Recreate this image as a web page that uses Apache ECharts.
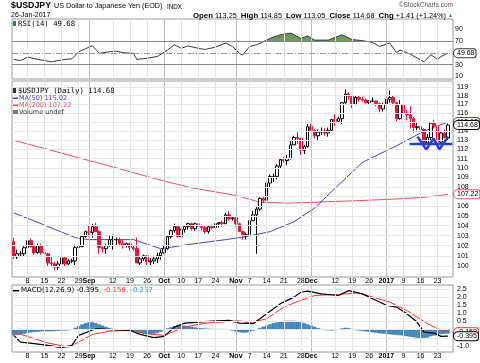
<!DOCTYPE html>
<html><head><meta charset="utf-8">
<script src="https://cdn.jsdelivr.net/npm/echarts@6.0.0/dist/echarts.min.js"></script>
<style>html,body{margin:0;padding:0;background:#fff;}#chart{width:480px;height:363px;}</style>
</head><body><div id="chart"></div>
<script>
// ---------------- data ----------------
// daily candles [open, high, low, close], weekdays 2016-08-02 .. 2017-01-26
const candles = [
[102.4,102.8,100.7,100.9],[100.9,101.6,100.7,101.2],[101.2,101.5,100.9,101.2],[101.2,102.0,100.9,101.8],
[101.8,102.6,101.7,102.5],[102.5,102.7,101.8,101.9],[101.9,102.0,101.1,101.3],[101.3,102.2,101.2,102.0],[102.0,102.2,101.1,101.3],
[101.3,101.6,100.8,101.2],[101.2,101.3,99.9,100.3],[100.3,100.9,99.9,100.2],[100.2,100.4,99.6,99.9],[99.9,100.5,99.6,100.2],
[100.2,100.9,100.0,100.8],[100.8,100.9,100.0,100.2],[100.2,100.7,100.1,100.5],[100.5,100.7,100.3,100.5],[100.5,102.1,100.1,101.8],
[101.8,102.5,101.8,101.9],[101.9,103.0,101.9,102.9],[102.9,103.5,102.8,103.4],[103.4,104.0,102.9,103.3],[103.3,104.2,102.8,103.9],
[103.9,104.3,103.5,103.4],[103.4,103.5,101.2,101.8],[101.8,102.0,101.3,101.7],[101.7,102.2,101.2,102.0],[102.0,103.0,101.9,102.6],
[102.6,103.1,101.6,102.6],[102.6,102.8,102.0,102.6],[102.6,102.8,102.0,102.2],[102.2,102.6,101.7,102.0],[102.0,102.3,101.8,102.2],
[102.2,102.3,101.5,101.8],[101.8,102.0,101.5,101.7],[101.7,102.8,100.3,100.3],[100.3,100.9,100.1,100.7],[100.7,101.1,100.5,101.0],
[101.0,101.1,100.1,100.4],[100.4,100.8,100.1,100.5],[100.5,101.0,100.2,100.7],[100.7,101.3,100.3,101.0],[101.0,101.6,100.6,101.3],
[101.3,102.0,101.2,101.7],[101.7,103.0,101.6,102.9],[102.9,103.6,102.7,103.5],[103.5,104.2,103.3,103.9],[103.9,104.0,102.8,102.9],
[102.9,103.7,102.9,103.6],[103.6,104.0,103.3,103.9],[103.9,104.3,103.6,104.2],[104.2,104.3,103.5,103.7],[103.7,104.3,103.5,104.2],
[104.2,104.3,103.7,103.9],[103.9,104.1,103.5,103.8],[103.8,104.0,103.2,103.4],[103.4,104.0,103.2,103.9],[103.9,104.1,103.6,103.8],
[103.8,104.4,103.8,104.2],[104.2,104.3,103.8,104.3],[104.3,104.5,103.9,104.2],[104.2,105.3,104.2,105.1],[105.1,105.5,104.5,104.7],
[104.7,105.0,104.5,104.8],[104.8,105.0,103.9,104.2],[104.2,104.3,103.4,103.4],[103.4,103.5,102.6,103.0],[103.0,103.3,102.6,103.1],
[103.1,104.6,103.1,104.5],[104.5,105.5,104.5,105.1],[105.1,105.9,101.2,105.7],[105.7,106.9,105.5,106.8],[106.8,107.0,106.3,106.6],
[106.6,108.5,106.5,108.4],[108.4,109.3,107.9,109.1],[109.1,109.4,108.5,109.1],[109.1,110.4,108.8,110.2],[110.2,111.0,110.0,110.9],
[110.9,111.2,110.6,110.8],[110.8,111.4,110.3,111.0],[111.0,112.9,110.9,112.5],[112.5,113.5,112.5,113.3],[113.3,113.9,112.6,113.2],
[113.2,113.2,111.4,111.9],[111.9,112.5,111.5,112.3],[112.3,114.8,112.2,114.5],[114.5,114.8,113.9,114.1],[114.1,114.2,113.2,113.5],
[113.5,114.2,112.9,113.9],[113.9,114.4,113.6,114.0],[114.0,114.3,113.5,113.8],[113.8,114.4,113.4,114.1],[114.1,115.4,113.9,115.3],
[115.3,116.0,114.6,115.1],[115.1,115.6,114.9,115.4],[115.4,117.2,114.8,117.2],[117.2,118.7,117.1,118.2],[118.2,118.4,117.5,117.9],
[117.9,118.0,116.6,117.0],[117.0,118.0,116.9,117.8],[117.8,118.0,117.3,117.6],[117.6,117.9,117.3,117.5],[117.5,117.7,117.1,117.2],
[117.2,117.5,117.0,117.4],[117.4,117.8,117.3,117.4],[117.4,117.4,116.8,117.1],[117.1,117.2,116.1,116.5],[116.5,117.2,116.2,117.0],
[117.0,117.7,116.9,117.6],[117.6,118.6,117.2,117.8],[117.8,118.0,116.9,117.2],[117.2,117.3,115.1,115.4],[115.4,117.5,115.3,117.0],
[117.0,117.0,115.8,116.0],[116.0,116.4,115.2,115.8],[115.8,116.8,114.3,115.4],[115.4,115.6,113.8,114.4],[114.4,115.0,114.1,114.5],
[114.5,114.6,113.6,114.2],[114.2,114.3,112.6,112.7],[112.7,113.7,112.6,113.3],[113.3,115.0,113.0,114.9],[114.9,115.3,114.3,114.6],
[114.6,114.6,112.5,112.8],[112.8,114.0,112.5,113.8],[113.8,114.2,113.2,113.3],[113.25,114.85,113.05,114.68]
];
const ma50Points = [['2016-08-02',105.3],['2016-08-12',104.2],['2016-08-26',102.8],['2016-09-01',102.6],['2016-09-08',102.6],['2016-09-20',102.6],['2016-09-30',101.7],['2016-10-14',102.2],['2016-10-27',102.6],['2016-11-04',102.9],['2016-11-15',103.4],['2016-11-24',104.4],['2016-12-02',105.8],['2016-12-09',107.5],['2016-12-22',110.6],['2017-01-05',112.4],['2017-01-17',114.0],['2017-01-26',115.02]];
const ma200Points = [['2016-08-02',113.0],['2016-08-16',112.0],['2016-08-30',111.0],['2016-09-13',110.0],['2016-09-29',108.8],['2016-10-13',107.9],['2016-11-01',107.1],['2016-11-10',106.4],['2016-11-22',106.3],['2016-12-02',106.4],['2016-12-20',106.55],['2017-01-03',106.7],['2017-01-17',106.9],['2017-01-26',107.22]];
const rsiPoints = [['2016-08-02',39],['2016-08-04',37],['2016-08-08',43],['2016-08-12',38],['2016-08-17',35],['2016-08-23',39],['2016-08-25',40],['2016-08-29',52],['2016-09-02',62.5],['2016-09-06',49.5],['2016-09-09',52],['2016-09-13',53],['2016-09-15',50.5],['2016-09-20',49.5],['2016-09-21',39],['2016-09-26',41],['2016-09-29',44],['2016-10-04',55],['2016-10-06',64],['2016-10-10',58],['2016-10-12',62],['2016-10-17',58],['2016-10-19',56],['2016-10-24',60],['2016-10-27',67],['2016-10-31',61],['2016-11-02',49.5],['2016-11-03',46.6],['2016-11-07',61],['2016-11-09',64],['2016-11-11',69],['2016-11-15',75],['2016-11-18',81],['2016-11-23',84],['2016-11-28',75],['2016-11-30',79],['2016-12-02',72],['2016-12-08',72],['2016-12-14',81],['2016-12-19',73],['2016-12-22',71],['2016-12-27',68],['2016-12-29',61],['2017-01-03',67],['2017-01-05',50.5],['2017-01-06',55],['2017-01-11',48],['2017-01-17',35],['2017-01-19',47],['2017-01-23',39],['2017-01-24',44],['2017-01-26',49.68]];
const macdPoints = [['2016-08-02',-0.35],['2016-08-04',-0.76],['2016-08-10',-0.86],['2016-08-16',-0.96],['2016-08-22',-1.1],['2016-08-25',-0.96],['2016-08-29',-0.35],['2016-09-05',0.06],['2016-09-09',0.0],['2016-09-19',-0.04],['2016-09-22',-0.29],['2016-09-28',-0.49],['2016-10-03',-0.41],['2016-10-06',0.16],['2016-10-11',0.4],['2016-10-17',0.47],['2016-10-21',0.53],['2016-10-28',0.57],['2016-11-02',0.4],['2016-11-08',0.37],['2016-11-14',0.98],['2016-11-18',1.6],['2016-11-24',2.0],['2016-11-28',2.3],['2016-11-30',2.37],['2016-12-06',2.2],['2016-12-13',2.1],['2016-12-16',2.4],['2016-12-22',2.2],['2016-12-27',1.9],['2017-01-02',1.5],['2017-01-05',1.39],['2017-01-10',0.98],['2017-01-13',0.47],['2017-01-17',-0.15],['2017-01-20',-0.21],['2017-01-24',-0.41],['2017-01-26',-0.395]];
const signalPoints = [['2016-08-02',-0.15],['2016-08-10',-0.55],['2016-08-16',-0.82],['2016-08-24',-1.07],['2016-08-29',-0.76],['2016-09-02',-0.29],['2016-09-09',-0.09],['2016-09-19',-0.04],['2016-09-26',-0.25],['2016-10-03',-0.35],['2016-10-11',0.16],['2016-10-19',0.4],['2016-10-31',0.53],['2016-11-02',0.55],['2016-11-07',0.42],['2016-11-14',0.67],['2016-11-21',1.39],['2016-11-28',1.8],['2016-12-02',2.1],['2016-12-13',2.17],['2016-12-21',2.25],['2016-12-27',2.0],['2017-01-03',1.7],['2017-01-10',1.18],['2017-01-18',0.37],['2017-01-24',-0.04],['2017-01-26',-0.158]];
const macdHist = [-0.32,-0.33,-0.30,-0.25,-0.20,-0.16,-0.14,-0.12,-0.10,-0.10,-0.10,-0.09,-0.08,-0.06,-0.05,-0.04,-0.02,0.02,0.12,0.22,
0.32,0.40,0.45,0.46,0.40,0.33,0.25,0.17,0.10,0.06,0.04,0.03,0.02,0.01,0.00,-0.05,-0.13,-0.20,-0.24,-0.26,
-0.27,-0.25,-0.20,-0.12,-0.02,0.08,0.15,0.21,0.24,0.25,0.24,0.21,0.17,0.14,0.11,0.09,0.07,0.06,0.05,0.04,
0.04,0.04,0.03,0.01,-0.04,-0.10,-0.15,-0.18,-0.17,-0.12,-0.05,0.02,0.10,0.18,0.26,0.33,0.40,0.45,0.50,0.54,
0.55,0.55,0.55,0.52,0.46,0.40,0.32,0.25,0.18,0.10,0.04,0.00,-0.03,-0.04,-0.02,0.03,0.08,0.12,0.10,0.05,
0.00,-0.04,-0.07,-0.10,-0.13,-0.16,-0.19,-0.22,-0.24,-0.26,-0.28,-0.30,-0.32,-0.34,-0.37,-0.40,-0.43,-0.46,-0.50,-0.54,
-0.56,-0.48,-0.40,-0.36,-0.30,-0.27,-0.25,-0.237];
const priceTicks = [100,101,102,103,104,105,106,107,108,109,110,111,112,113,114,115,116,117,118,119];
const rsiTicks = [90,70,50,30,10];
const macdTicks = ['2.5','2.0','1.5','1.0','0.5','0.0','-0.5','-1.0'];
const tickDates = ['2016-08-08','2016-08-15','2016-08-22','2016-08-29','2016-09-01','2016-09-12','2016-09-19','2016-09-26','2016-10-03','2016-10-10','2016-10-17','2016-10-24','2016-11-01','2016-11-07','2016-11-14','2016-11-21','2016-11-28','2016-12-01','2016-12-12','2016-12-19','2016-12-26','2017-01-02','2017-01-09','2017-01-16','2017-01-23'];
const tickTexts = ['8','15','22','29','Sep','12','19','26','Oct','10','17','24','Nov','7','14','21','28','Dec','12','19','26','2017','9','16','23'];
const monthTexts = ['Sep','Oct','Nov','Dec','2017'];
// hand-drawn annotation (x in trading-day index, y in price)
const supportLine = [[115.8,112.6],[128.3,112.6]];
const wPattern = [[118.1,113.4],[120.7,112.0],[122.8,113.2],[124.5,112.0],[127.1,113.4]];
const lastValues = {close:'114.68', ma50:'115.02', ma200:'107.22', rsi:'49.68', macd:'-0.395', signal:'-0.158', hist:'-0.237'};

// ---------------- categories ----------------
const dates = [];
(function(){ let t = Date.UTC(2016,7,2); const end = Date.UTC(2017,0,26);
  while (t <= end) { const d = new Date(t); const w = d.getUTCDay(); if (w > 0 && w < 6) dates.push(d.toISOString().slice(0,10)); t += 86400000; } })();
const categories = dates.concat(['2017-01-27']);

// ---------------- option ----------------
const FONT = '"Liberation Sans", Arial, sans-serif';
const LFONT = '"DejaVu Sans", Verdana, sans-serif';
const MFONT = '"DejaVu Sans Mono", monospace';
const NONE = 'rgba(0,0,0,0)';
const L = 12, W = 441;
const gridDefs = [{top:19,height:60},{top:81,height:196},{top:285,height:67}];
const grids = gridDefs.map(g => ({left:L, width:W, top:g.top, height:g.height, show:true, borderColor:'#9a9a9a', borderWidth:1, backgroundColor:'#fff', containLabel:false, outerBoundsMode:'none'}));

const isMonthTick = (v) => { const k = tickDates.indexOf(v); return k >= 0 && monthTexts.indexOf(tickTexts[k]) >= 0; };
const isDayTick = (v) => { const k = tickDates.indexOf(v); return k >= 0 && monthTexts.indexOf(tickTexts[k]) < 0; };
function catAxis(gi, mode) {
  return {type:'category', gridIndex:gi, position:'bottom', data:categories, boundaryGap:true,
    axisLine:{show:false}, axisTick:{show:false}, splitLine:{show:false},
    axisLabel:{show:mode !== 'none', interval:(i,v)=> mode === 'month' ? isMonthTick(v) : isDayTick(v), margin:1,
      formatter:(v)=> tickTexts[tickDates.indexOf(v)] || '',
      fontSize:7, fontWeight: mode === 'month' ? 'bold' : 'normal', color:'#000', fontFamily:FONT}};
}
const xAxes = [catAxis(0,'none'), catAxis(1,'day'), catAxis(2,'day'),
  {type:'value', gridIndex:1, min:-0.5, max:128.5, show:false},
  catAxis(1,'month'), catAxis(2,'month')];
const hidden = {axisLabel:{show:false}, axisLine:{show:false}, axisTick:{show:false}, splitLine:{show:false}};
const yAxes = [
  Object.assign({type:'value', gridIndex:0, min:5.6, max:108}, hidden),
  Object.assign({type:'log', logBase:10, gridIndex:1, min:98.94, max:119.7}, hidden),
  Object.assign({type:'value', gridIndex:2, min:-1.37, max:2.745}, hidden)
];

function vLines() {
  return tickDates.map((d,k) => ({xAxis:d, label:{show:false},
    lineStyle: monthTexts.indexOf(tickTexts[k]) >= 0 ? {color:'#bdbdbd', width:1, type:'solid'} : {color:'#e4e4e4', width:1, type:'solid'}}));
}
function hLabel(val, txt, color, dist) {
  return {yAxis:val, lineStyle:{color:color, width:1, type:'solid'},
    label:{show:true, position:'end', distance:dist, formatter:txt, color:'#000', fontSize:7, fontFamily:FONT}};
}
function boxLabel(val, txt, border) {
  return {yAxis:val, lineStyle:{color:NONE, width:0},
    label:{show:true, position:'end', distance:1, formatter:txt, color:'#000', fontSize:7, fontFamily:FONT,
      backgroundColor:'#fff', borderColor:border, borderWidth:1, borderRadius:[5,2,2,5], padding:[1,1,0,3]}};
}
function helper(gi, z, items) {
  return {type:'line', xAxisIndex:gi, yAxisIndex:gi, data:[], z:z, silent:true, animation:false,
    markLine:{silent:true, symbol:['none','none'], animation:false, precision:4, data:items}};
}

const rsiGrid = vLines()
  .concat(rsiTicks.map(v => ({yAxis:v, lineStyle: v===70||v===30 ? {color:'#888', width:1, type:'solid'} : (v===50 ? {color:'#999', width:1, type:[6,2,1,2]} : {color:NONE, width:0}),
     label:{show:true, position:'end', distance:2, formatter:String(v), color:'#000', fontSize:7, fontFamily:FONT}})));
const priceGrid = vLines().concat(priceTicks.map(v => hLabel(v, String(v), '#e8e8e8', 4)));
const macdGrid = vLines().concat(macdTicks.map(t => hLabel(parseFloat(t), t, '#e8e8e8', 4)));

const series = [
  helper(0, 1, rsiGrid),
  helper(1, 1, priceGrid),
  helper(2, 1, macdGrid),
  {type:'line', name:'rsiFill', xAxisIndex:0, yAxisIndex:0, data:rsiPoints.map(p => [p[0], Math.max(p[1],70)]),
    symbol:'none', lineStyle:{width:0}, areaStyle:{origin:70, color:'#6b9a5e', opacity:1}, z:2, animation:false},
  {type:'line', name:'RSI', xAxisIndex:0, yAxisIndex:0, data:rsiPoints, symbol:'none',
    lineStyle:{color:'#3a3a3a', width:1}, z:3, animation:false},
  {type:'line', name:'MA200', xAxisIndex:1, yAxisIndex:1, data:ma200Points, symbol:'none',
    lineStyle:{color:'#e8506e', width:1}, z:3, animation:false},
  {type:'line', name:'MA50', xAxisIndex:1, yAxisIndex:1, data:ma50Points, symbol:'none',
    lineStyle:{color:'#4646b4', width:1}, z:3, animation:false},
  {type:'candlestick', name:'USDJPY', xAxisIndex:1, yAxisIndex:1, data:candles.map(c => [c[0],c[3],c[2],c[1]]),
    barWidth:3, itemStyle:{color:'#ffffff', color0:'#e3173d', borderColor:'#000', borderColor0:'#e3173d', borderWidth:1}, z:4, animation:false},
  {type:'line', name:'support', xAxisIndex:3, yAxisIndex:1, data:supportLine, symbol:'none',
    lineStyle:{color:'#2a3ed8', width:2.5}, z:6, animation:false},
  {type:'line', name:'W', xAxisIndex:3, yAxisIndex:1, data:wPattern, symbol:'none',
    lineStyle:{color:'#2a3ed8', width:2.5}, z:6, animation:false},
  {type:'bar', name:'hist', xAxisIndex:2, yAxisIndex:2, data:macdHist, barCategoryGap:'0%',
    itemStyle:{color:'#3f90c8', borderColor:'#1f5a85', borderWidth:0.4}, z:2, animation:false},
  {type:'line', name:'signal', xAxisIndex:2, yAxisIndex:2, data:signalPoints, symbol:'none',
    lineStyle:{color:'#ff2f2f', width:1}, z:3, animation:false},
  {type:'line', name:'MACD', xAxisIndex:2, yAxisIndex:2, data:macdPoints, symbol:'none',
    lineStyle:{color:'#000', width:1.2}, z:4, animation:false},
  helper(0, 10, [boxLabel(parseFloat(lastValues.rsi), lastValues.rsi, '#333')]),
  helper(1, 10, [boxLabel(parseFloat(lastValues.ma50), lastValues.ma50, '#4646b4'), boxLabel(parseFloat(lastValues.close), lastValues.close, '#000'), boxLabel(parseFloat(lastValues.ma200), lastValues.ma200, '#e8506e')]),
  helper(2, 10, [boxLabel(parseFloat(lastValues.hist), lastValues.hist, '#3f90c8'), boxLabel(parseFloat(lastValues.signal), lastValues.signal, '#ff2f2f'), boxLabel(parseFloat(lastValues.macd), lastValues.macd, '#000')])
];

const T = (x, y, text, font, fill) => ({type:'text', left:x, top:y, silent:true, z:100, style:{text:text, font:font, fill:fill||'#000'}});
const graphic = [
  T(11, 1.5, '$USDJPY', 'bold 8.8px '+FONT),
  T(54, 3, 'US Dollar to Japanese Yen (EOD)', '7.2px '+FONT),
  T(167, 4, 'INDX', '6.3px '+FONT),
  T(11, 12, '26-Jan-2017', '7px '+FONT),
  {type:'text', right:27, top:2, silent:true, z:100, style:{text:'\u00a9StockCharts.com', font:'6.5px '+FONT, fill:'#555'}},
  {type:'text', right:27, top:12, silent:true, z:100, style:{
    text:'{b|Open} 113.25  {b|High} 114.85  {b|Low} 113.05  {b|Close} 114.68  {b|Chg} +1.41 (+1.24%) {g|\u25b2}',
    font:'7.3px '+FONT, fill:'#000', rich:{b:{fontWeight:'bold', fontSize:7.8, fontFamily:FONT}, g:{fill:'#2a9a2a', fontSize:5, fontFamily:FONT}}}},
  // RSI legend
  {type:'rect', shape:{x:13, y:21, width:3, height:5}, style:{fill:'#3a7a3a'}, silent:true, z:100},
  T(18, 20.5, 'RSI(14) 49.68', '7.3px '+MFONT),
  // price legend
  {type:'rect', shape:{x:13, y:88, width:3, height:5}, style:{fill:'#333'}, silent:true, z:100},
  T(18, 87.5, '$USDJPY (Daily) 114.68', '7.3px '+MFONT),
  {type:'rect', shape:{x:13, y:97.5, width:5, height:1.5}, style:{fill:'#4646b4'}, silent:true, z:100},
  T(19, 95, 'MA(50) 115.02', '6.5px '+LFONT, '#4646b4'),
  {type:'rect', shape:{x:13, y:104.5, width:5, height:1.5}, style:{fill:'#e8506e'}, silent:true, z:100},
  T(19, 102, 'MA(200) 107.22', '6.5px '+LFONT, '#e8506e'),
  {type:'rect', shape:{x:13, y:110, width:5, height:4}, style:{fill:'#777'}, silent:true, z:100},
  T(19, 109, 'Volume undef', '6.5px '+LFONT, '#333'),
  // MACD legend
  {type:'rect', shape:{x:13, y:290, width:6, height:1.5}, style:{fill:'#000'}, silent:true, z:100},
  {type:'text', left:21, top:287, silent:true, z:100, style:{text:'MACD(12,26,9) -0.395{r|, -0.158}{b|, -0.237}', font:'7px '+LFONT, fill:'#000',
    rich:{r:{fill:'#ff2f2f', fontSize:7, fontFamily:LFONT}, b:{fill:'#3f90c8', fontSize:7, fontFamily:LFONT}}}}
];

const chart = echarts.init(document.getElementById('chart'), null, {renderer:'canvas'});
chart.setOption({animation:false, backgroundColor:'#fff', grid:grids, xAxis:xAxes, yAxis:yAxes, series:series, graphic:graphic});
</script></body></html>
